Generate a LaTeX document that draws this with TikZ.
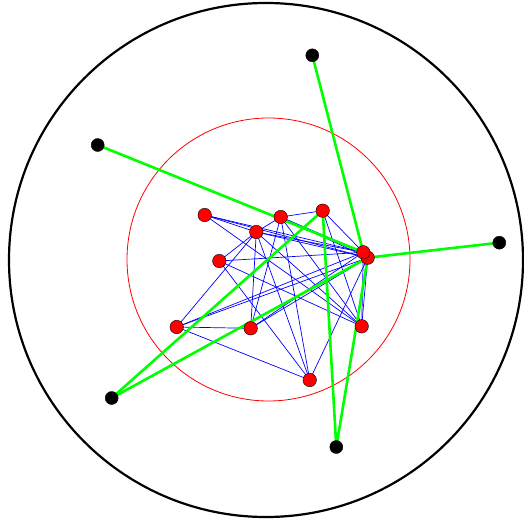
\documentclass[tikz,border=0pt]{standalone}
\usetikzlibrary{backgrounds}

\begin{document}
\begin{tikzpicture}[
    x=1pt, y=-1pt,
    redpt/.style={
        circle, draw=black, line width=0.4pt, fill=red,
        inner sep=0pt, minimum size=13.5pt
    },
    blackpt/.style={
        circle, draw=black, fill=black,
        inner sep=0pt, minimum size=13pt
    },
    bluelink/.style={draw=blue, line width=0.7pt},
    greenlink/.style={draw=green, line width=2.6pt}
]
\useasboundingbox (0,0) rectangle (523,524);

% --- Inner (red) points ---
\node[redpt] (a) at (204.7,215) {};
\node[redpt] (b) at (280.7,217) {};
\node[redpt] (c) at (322.7,210.7) {};
\node[redpt] (d) at (256.3,232) {};
\node[redpt] (e) at (219.3,261) {};
\node[redpt] (g) at (367.7,257.7) {};
\node[redpt] (f) at (363.3,252.3) {};
\node[redpt] (h) at (176.7,327) {};
\node[redpt] (i) at (250.7,328.3) {};
\node[redpt] (j) at (361.7,326.3) {};
\node[redpt] (k) at (309.7,380) {};

% --- Outer (black) points ---
\node[blackpt] (p1) at (312.3,55.3) {};
\node[blackpt] (p2) at (97.7,145) {};
\node[blackpt] (p3) at (499.3,242.7) {};
\node[blackpt] (p4) at (111.7,398) {};
\node[blackpt] (p5) at (336.3,447) {};

\begin{scope}[on background layer]
% --- Outer and inner circles ---
\draw[black, line width=2.2pt] (266,260) circle (257);
\draw[red, line width=0.8pt] (268.5,259.5) circle (141.5);

% --- Blue links between red points ---
\foreach \u/\v in {a/d, a/f, a/g, a/j,
                   b/c, b/f, b/g, b/i, b/j, b/k, b/d,
                   c/f, c/j,
                   d/f, d/g, d/h, d/i, d/k, d/j,
                   e/f, e/j, e/k, e/d,
                   h/i, h/f, h/g, h/k,
                   i/f, i/g,
                   j/f, j/g,
                   k/g}
    \draw[bluelink] (\u.center) -- (\v.center);

% --- Green links from black points ---
\foreach \u/\v in {p1/f, p2/f, p3/g, p4/c, p4/g, p5/c, p5/g}
    \draw[greenlink] (\u.center) -- (\v.center);
\end{scope}

\end{tikzpicture}
\end{document}
